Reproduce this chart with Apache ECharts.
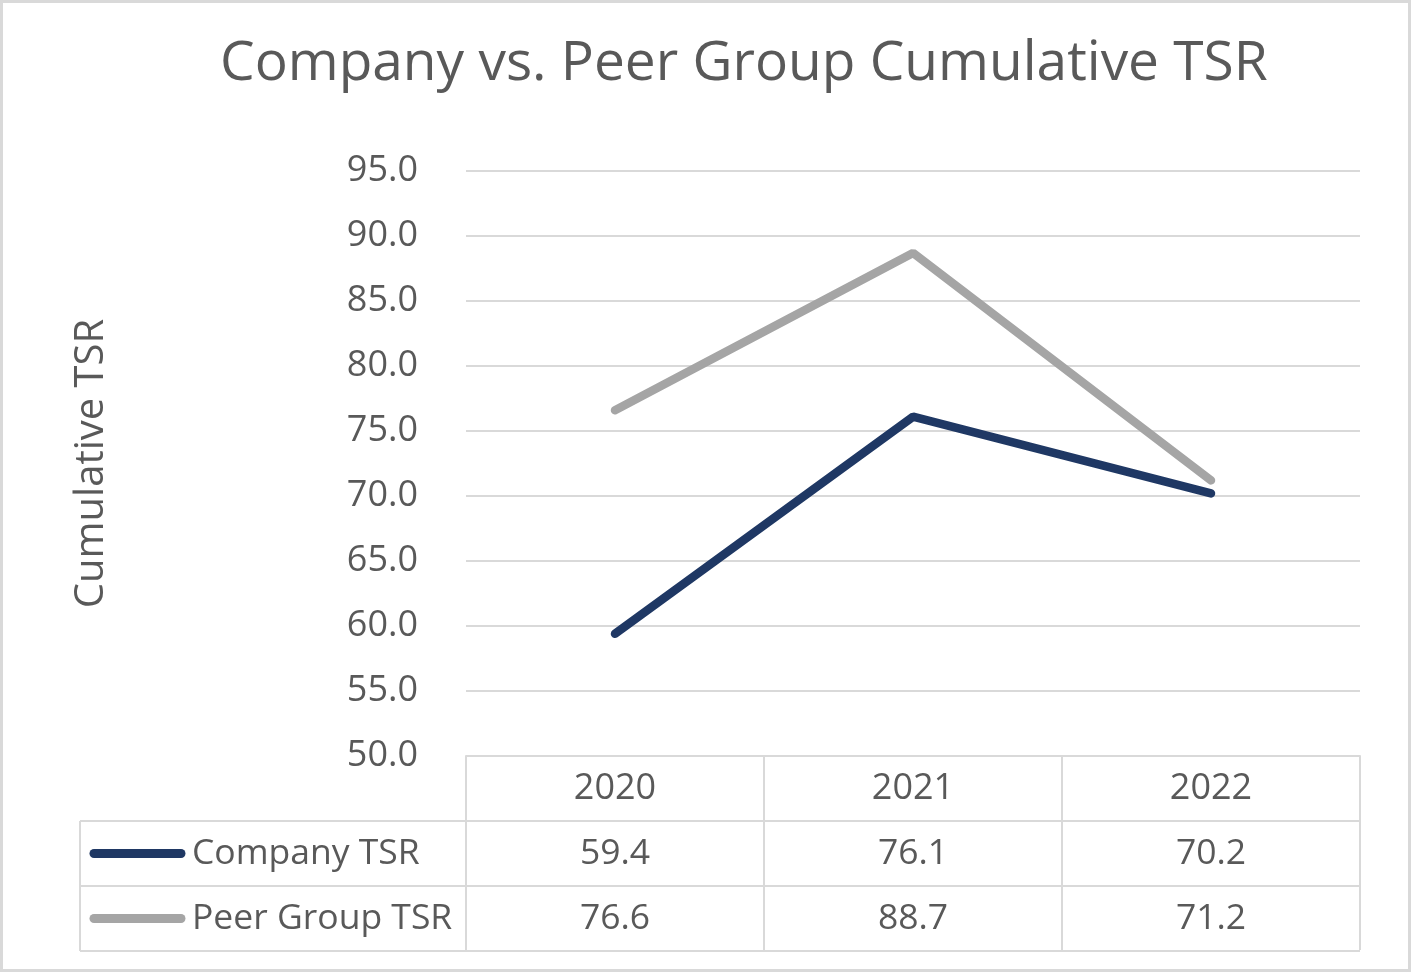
<!DOCTYPE html>
<html>
<head>
<meta charset="utf-8">
<script src="https://cdn.jsdelivr.net/npm/echarts@6/dist/echarts.min.js"></script>
<style>
  html, body { margin: 0; padding: 0; background: #fff; }
  #chart { width: 1413px; height: 975px; }
</style>
</head>
<body>
<div id="chart"></div>
<script>
const years = ["2020", "2021", "2022"];
const companyTsr = [59.4, 76.1, 70.2];
const peerTsr = [76.6, 88.7, 71.2];
const seriesNames = ["Company TSR", "Peer Group TSR"];
const seriesColors = ["#1F3864", "#A5A5A5"];

const textColor = "#595959";
const gridColor = "#D9D9D9";
const font = "'Open Sans', 'Noto Sans', sans-serif";

const chart = echarts.init(document.getElementById("chart"));

// 表格行位置
const rowTop = 756;
const rowH = 65;
const tableLeft = 80;

const option = {
  animation: false,
  backgroundColor: "#fff",
  textStyle: { fontFamily: font, color: textColor },
  title: {
    text: "Company vs. Peer Group Cumulative TSR",
    left: 215,
    top: 32,
    textStyle: { fontFamily: font, fontSize: 55, fontWeight: "normal", color: textColor }
  },
  grid: { left: 466, right: 53, top: 171, bottom: 219 },
  xAxis: {
    type: "category",
    data: years,
    boundaryGap: true,
    axisLine: { show: true, lineStyle: { color: gridColor, width: 2 } },
    axisTick: { show: true, alignWithLabel: false, length: rowH * 3 - 1, lineStyle: { color: gridColor, width: 2 } },
    axisLabel: { fontSize: 36, color: textColor, margin: 15, fontFamily: font }
  },
  yAxis: {
    type: "value",
    min: 50,
    max: 95,
    interval: 5,
    name: "Cumulative TSR",
    nameLocation: "middle",
    nameGap: 354,
    nameTextStyle: { fontSize: 40, color: textColor, fontFamily: font },
    axisLine: { show: false },
    axisTick: { show: false },
    splitLine: { lineStyle: { color: gridColor, width: 2 } },
    axisLabel: {
      fontSize: 36, color: textColor, margin: 48, fontFamily: font,
      formatter: (v) => v.toFixed(1)
    }
  },
  series: [
    {
      name: seriesNames[0], type: "line", data: companyTsr, symbol: "none",
      lineStyle: { color: seriesColors[0], width: 8.5, cap: "round" }, z: 3
    },
    {
      name: seriesNames[1], type: "line", data: peerTsr, symbol: "none",
      lineStyle: { color: seriesColors[1], width: 8.5, cap: "round" }, z: 2
    }
  ]
};

chart.setOption(option);

// 数据表
function buildTable() {
  const rows = [companyTsr, peerTsr];
  const right = chart.convertToPixel({ xAxisIndex: 0 }, years.length - 1) +
    (chart.convertToPixel({ xAxisIndex: 0 }, 1) - chart.convertToPixel({ xAxisIndex: 0 }, 0)) / 2;
  const els = [
    // 外框
    { type: "rect", shape: { x: 1.5, y: 1.5, width: 1408, height: 969 }, style: { fill: "none", stroke: gridColor, lineWidth: 3 }, silent: true }
  ];
  for (let r = 1; r <= 3; r++) {
    els.push({
      type: "line", silent: true,
      shape: { x1: tableLeft, y1: rowTop + rowH * r, x2: right, y2: rowTop + rowH * r },
      style: { stroke: gridColor, lineWidth: 2 }
    });
  }
  els.push({
    type: "line", silent: true,
    shape: { x1: tableLeft, y1: rowTop + rowH, x2: tableLeft, y2: rowTop + rowH * 3 },
    style: { stroke: gridColor, lineWidth: 2 }
  });
  rows.forEach((vals, i) => {
    const cy = rowTop + rowH * (i + 1) + rowH / 2;
    els.push({
      type: "line", silent: true,
      shape: { x1: 94, y1: cy, x2: 181, y2: cy },
      style: { stroke: seriesColors[i], lineWidth: 9, lineCap: "round" }
    });
    els.push({
      type: "text", silent: true, x: 192, y: cy,
      style: { text: seriesNames[i], fontSize: 35.5, fontFamily: font, fill: textColor, verticalAlign: "middle", align: "left" }
    });
    vals.forEach((v, j) => {
      els.push({
        type: "text", silent: true,
        x: chart.convertToPixel({ xAxisIndex: 0 }, j), y: cy,
        style: { text: v.toFixed(1), fontSize: 35.5, fontFamily: font, fill: textColor, align: "center", verticalAlign: "middle" }
      });
    });
  });
  chart.setOption({ graphic: { elements: els } });
}
buildTable();
</script>
</body>
</html>
